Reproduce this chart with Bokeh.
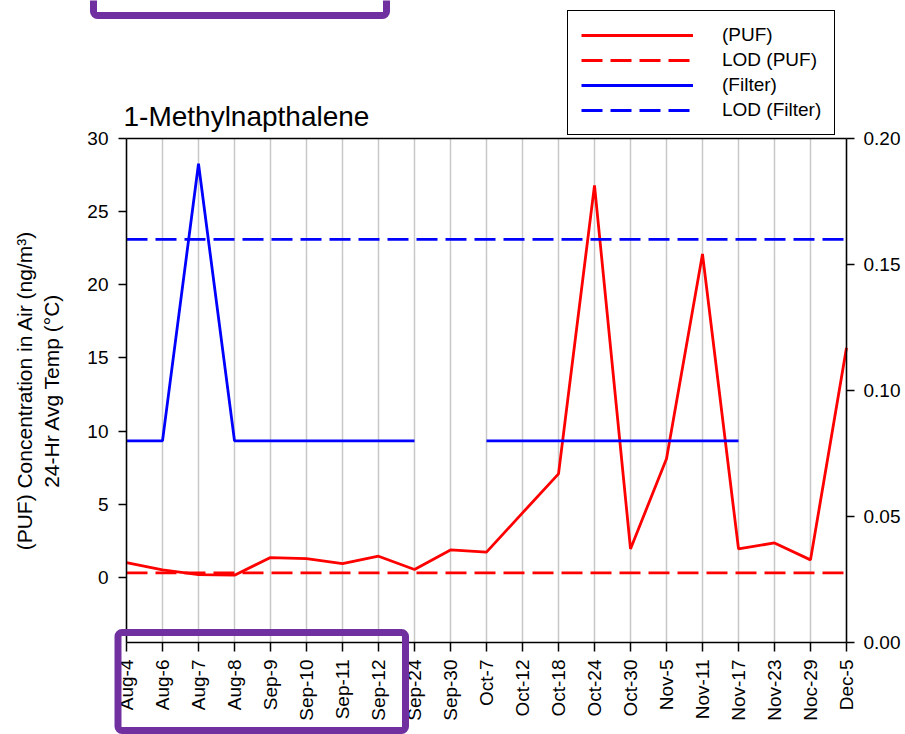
import math
from bokeh.plotting import figure
from bokeh.models import (Range1d, LinearAxis, FixedTicker, Legend, LegendItem,
                          Label, BoxAnnotation, PrintfTickFormatter)
from bokeh.embed import file_html
from bokeh.resources import INLINE

# ---------------- data ----------------
categories = ["Aug-4", "Aug-6", "Aug-7", "Aug-8", "Sep-9", "Sep-10", "Sep-11",
              "Sep-12", "Sep-24", "Sep-30", "Oct-7", "Oct-12", "Oct-18", "Oct-24",
              "Oct-30", "Nov-5", "Nov-11", "Nov-17", "Nov-23", "Noc-29", "Dec-5"]
puf = [1.0, 0.5, 0.18, 0.14, 1.35, 1.28, 0.94, 1.44, 0.53, 1.87, 1.72,
       4.4, 7.07, 26.8, 1.94, 8.1, 22.1, 1.94, 2.35, 1.19, 15.7]
nan = float("nan")
filt = [0.08, 0.08, 0.19, 0.08, 0.08, 0.08, 0.08, 0.08, 0.08, nan, 0.08,
        0.08, 0.08, 0.08, 0.08, 0.08, 0.08, 0.08, nan, nan, nan]
lod_puf = 0.3
lod_filter = 0.16
left_ticks = [0, 5, 10, 15, 20, 25, 30]
right_ticks = [0.0, 0.05, 0.10, 0.15, 0.20]
left_bounds = (-4.46, 30)
right_bounds = (0.0, 0.2)
title_text = "1-Methylnapthalene"
y_label = "(PUF) Concentration in Air (ng/m\u00b3)\n24-Hr Avg Temp (\u00b0C)"

x = list(range(len(categories)))
FONT = "Liberation Sans"

# ---------------- layout (pixels) ----------------
W, H = 905, 734
PL, PR, PT, PB = 126, 846, 138, 642          # plot-area box inside the canvas
n = len(categories) - 1
ppx = (PR - PL) / n
ppy_l = (PB - PT) / (left_bounds[1] - left_bounds[0])
ppy_r = (PB - PT) / (right_bounds[1] - right_bounds[0])

x_range = Range1d(-PL / ppx, n + (W - PR) / ppx)
y_range = Range1d(left_bounds[0] - (H - PB) / ppy_l, left_bounds[1] + PT / ppy_l)
r_range = Range1d(right_bounds[0] - (H - PB) / ppy_r, right_bounds[1] + PT / ppy_r)

p = figure(width=W, height=H, output_backend="svg", toolbar_location=None,
           x_range=x_range, y_range=y_range, title=None,
           min_border_left=0, min_border_right=0, min_border_top=0,
           min_border_bottom=0)
p.extra_y_ranges = {"filter": r_range}
p.outline_line_color = None
p.background_fill_color = "white"
p.border_fill_color = "white"
p.xgrid.visible = False
p.ygrid.visible = False


def style_axis(ax, size="19px"):
    ax.major_label_text_font = FONT
    ax.major_label_text_font_size = size
    ax.major_label_text_color = "black"
    ax.major_tick_in = 0
    ax.minor_tick_line_color = None
    ax.axis_line_width = 1.5
    ax.axis_line_color = "black"
    ax.major_tick_line_width = 1.5
    ax.major_tick_line_color = "black"


# x axis (bottom of plot area)
xa = p.below[0]
style_axis(xa)
xa.fixed_location = left_bounds[0]
xa.bounds = (0, n)
xa.ticker = FixedTicker(ticks=x)
xa.major_label_overrides = {i: c for i, c in enumerate(categories)}
xa.major_label_orientation = math.pi / 2
xa.major_tick_out = 9
xa.major_label_standoff = 8

# left axis
ya = p.left[0]
style_axis(ya)
ya.fixed_location = 0
ya.bounds = left_bounds
ya.ticker = FixedTicker(ticks=left_ticks)
ya.major_tick_out = 8
ya.major_label_standoff = 10
ya.axis_label = y_label
ya.axis_label_text_font = FONT
ya.axis_label_text_font_size = "21px"
ya.axis_label_text_font_style = "normal"
ya.axis_label_text_color = "black"
ya.axis_label_standoff = 21

# right axis
ra = LinearAxis(y_range_name="filter", ticker=FixedTicker(ticks=right_ticks),
                formatter=PrintfTickFormatter(format="%.2f"),
                fixed_location=n, bounds=right_bounds)
style_axis(ra)
ra.major_tick_out = 8
ra.major_label_standoff = 9
p.add_layout(ra, "right")

# vertical grid lines (as long inward ticks from the top edge), under the data
ga = LinearAxis(ticker=FixedTicker(ticks=x), fixed_location=left_bounds[1],
                bounds=(0, n), level="underlay")
ga.axis_line_color = None
ga.major_tick_out = 0
ga.major_tick_in = PB - PT
ga.major_tick_line_color = "#c8c8c8"
ga.major_tick_line_width = 1.5
ga.minor_tick_line_color = None
ga.major_label_text_color = None
p.add_layout(ga, "above")

# top edge of the plot area
ta = LinearAxis(ticker=FixedTicker(ticks=[]), fixed_location=left_bounds[1],
                bounds=(0, n))
ta.axis_line_color = "black"
ta.axis_line_width = 1.5
ta.major_tick_line_color = None
ta.minor_tick_line_color = None
ta.major_label_text_color = None
p.add_layout(ta, "above")

# series
r_puf = p.line(x, puf, line_color="#ff0000", line_width=2.8)
r_lodp = p.line(x, [lod_puf] * len(x), line_color="#ff0000", line_width=2.8,
                line_dash="21 8")
r_filt = p.line(x, filt, line_color="#0000ff", line_width=2.8, y_range_name="filter")
r_lodf = p.line(x, [lod_filter] * len(x), line_color="#0000ff", line_width=2.8,
                line_dash="21 8", y_range_name="filter")

# legend box (top-right, above the plot area)
LEG_L, LEG_T, LEG_H = 567, 10, 125
legend = Legend(items=[LegendItem(label="(PUF)", renderers=[r_puf]),
                       LegendItem(label="LOD (PUF)", renderers=[r_lodp]),
                       LegendItem(label="(Filter)", renderers=[r_filt]),
                       LegendItem(label="LOD (Filter)", renderers=[r_lodf])],
                location=(LEG_L, H - LEG_T - LEG_H))
legend.glyph_width = 112
legend.glyph_height = 22
legend.label_height = 22
legend.label_standoff = 29
legend.padding = 13
legend.spacing = 3
legend.margin = 0
legend.label_text_font = FONT
legend.label_text_font_size = "19px"
legend.label_text_color = "black"
legend.label_text_baseline = "middle"
legend.border_line_color = "black"
legend.border_line_width = 1.5
legend.border_line_alpha = 1.0
legend.background_fill_color = "white"
legend.background_fill_alpha = 1.0
p.add_layout(legend)

title = Label(x=PL - 3, y=H - 116, x_units="screen", y_units="screen",
              text=title_text, text_font=FONT, text_font_size="28px",
              text_baseline="alphabetic", text_color="black")
p.add_layout(title)

# purple highlight boxes
PURPLE = "#7030a0"
box_top = BoxAnnotation(left=93, right=386, bottom=H - 15, top=H + 20,
                        left_units="screen", right_units="screen",
                        bottom_units="screen", top_units="screen",
                        fill_alpha=0, line_color=PURPLE, line_alpha=1.0,
                        line_width=7, border_radius=4)
box_bot = BoxAnnotation(left=117.5, right=405, bottom=H - 730, top=H - 632,
                        left_units="screen", right_units="screen",
                        bottom_units="screen", top_units="screen",
                        fill_alpha=0, line_color=PURPLE, line_alpha=1.0,
                        line_width=7, border_radius=4)
p.add_layout(box_top)
p.add_layout(box_bot)

open("out.html", "w").write(file_html(p, INLINE))
